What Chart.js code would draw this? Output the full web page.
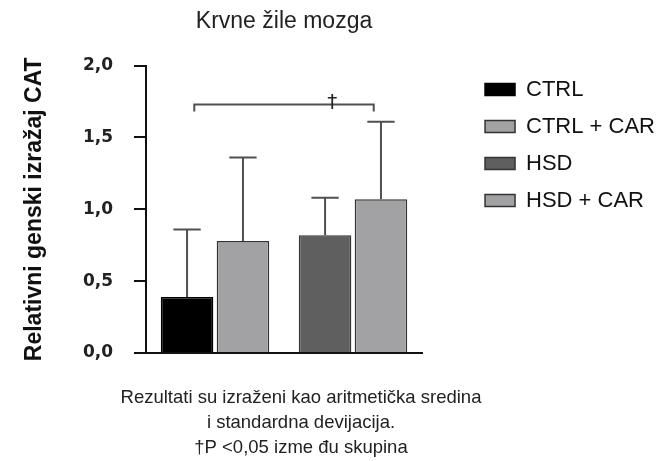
<!DOCTYPE html>
<html>
<head>
<meta charset="utf-8">
<script src="https://cdn.jsdelivr.net/npm/chart.js@4.4.1/dist/chart.umd.min.js"></script>
<style>
  body { margin: 0; background: #fff; }
  canvas { display: block; }
</style>
</head>
<body>
<canvas id="grafikon" width="669" height="461"></canvas>
<script>
const kategorije = ["CTRL", "HSD"];
const skupine = ["CTRL", "CTRL + CAR", "HSD", "HSD + CAR"];
const skupinaKategorija = [0, 0, 1, 1];
const srednjaVrijednost = [0.39, 0.78, 0.82, 1.07];
const standardnaDevijacija = [0.47, 0.58, 0.26, 0.54];
const bojeStupaca = ["#000000", "#a2a2a5", "#5f5f5f", "#a2a2a5"];
const yOznake = [0, 0.5, 1.0, 1.5, 2.0];

// znacajnost: od kategorije do kategorije, visina zagrade
const zagradaOd = -0.15;
const zagradaDo = 1.15;
const zagradaVisina = 1.73;
const zagradaKraj = 1.68;
const oznakaZnacajnosti = "†";

const naslov = "Krvne žile mozga";
const naslovY = "Relativni genski izražaj CAT";
const opis = [
  "Rezultati su izraženi kao aritmetička sredina",
  "i standardna devijacija.",
  "†P <0,05 izme đu skupina"
];

const datasets = skupine.map((ime, i) => ({
  label: ime,
  data: kategorije.map((k, j) => (j === skupinaKategorija[i] ? srednjaVrijednost[i] : null)),
  backgroundColor: bojeStupaca[i],
  borderColor: i === 0 ? "#000" : "#333",
  borderWidth: 1.5,
  skipNull: true,
  categoryPercentage: 0.81,
  barPercentage: 0.94,
}));

const greske = {
  id: "greske",
  afterDatasetsDraw(chart) {
    const ctx = chart.ctx;
    const y = chart.scales.y;
    const x = chart.scales.x;
    ctx.save();
    ctx.strokeStyle = "#505050";
    ctx.lineWidth = 2;
    skupine.forEach((ime, i) => {
      const bar = chart.getDatasetMeta(i).data[skupinaKategorija[i]];
      const vrh = y.getPixelForValue(srednjaVrijednost[i] + standardnaDevijacija[i]);
      const pola = bar.width * 0.26;
      ctx.beginPath();
      ctx.moveTo(bar.x, bar.y);
      ctx.lineTo(bar.x, vrh);
      ctx.moveTo(bar.x - pola, vrh);
      ctx.lineTo(bar.x + pola, vrh);
      ctx.stroke();
    });
    // zagrada
    const x1 = x.getPixelForValue(zagradaOd);
    const x2 = x.getPixelForValue(zagradaDo);
    const yz = y.getPixelForValue(zagradaVisina);
    const yk = y.getPixelForValue(zagradaKraj);
    ctx.beginPath();
    ctx.moveTo(x1, yk);
    ctx.lineTo(x1, yz);
    ctx.lineTo(x2, yz);
    ctx.lineTo(x2, yk);
    ctx.stroke();
    ctx.fillStyle = "#222";
    ctx.font = "20px 'DejaVu Sans'";
    ctx.textAlign = "center";
    ctx.textBaseline = "bottom";
    ctx.fillText(oznakaZnacajnosti, x.getPixelForValue(0.85), yz + 8);
    ctx.restore();
  },
  afterDraw(chart) {
    const ctx = chart.ctx;
    ctx.save();
    ctx.fillStyle = "#222";
    ctx.font = "18.5px 'Liberation Sans'";
    ctx.textAlign = "center";
    ctx.textBaseline = "middle";
    opis.forEach((red, i) => {
      ctx.fillText(red, 301, 398 + i * 25);
    });
    ctx.restore();
  }
};

new Chart(document.getElementById("grafikon").getContext("2d"), {
  type: "bar",
  data: { labels: kategorije, datasets: datasets },
  options: {
    responsive: false,
    animation: false,
    layout: { padding: { left: 12, right: 4, top: 0, bottom: 100 } },
    plugins: {
      title: {
        display: true,
        text: naslov,
        fullSize: false,
        color: "#222",
        font: { family: "'Liberation Sans'", size: 23, weight: "normal" },
        padding: { top: 8, bottom: 30 },
      },
      legend: {
        position: "right",
        align: "start",
        maxWidth: 260,
        title: { display: true, text: "", font: { size: 10 }, padding: { top: 51.5, bottom: 0 } },
        labels: {
          color: "#111",
          font: { family: "'Liberation Sans'", size: 22 },
          boxWidth: 30,
          boxHeight: 12,
          padding: 15,
        },
      },
      tooltip: { enabled: false },
    },
    scales: {
      x: {
        grid: { display: false },
        ticks: { display: false },
        border: { display: true, color: "#111", width: 2 },
      },
      y: {
        min: 0,
        max: 2,
        afterBuildTicks: (s) => { s.ticks = yOznake.map((v) => ({ value: v })); },
        afterFit: (s) => { s.width = 134; },
        ticks: {
          color: "#222",
          padding: 21,
          font: { family: "'DejaVu Sans'", size: 17, weight: "bold" },
          callback: (v) => v.toFixed(1).replace(".", ","),
        },
        grid: { drawOnChartArea: false, drawTicks: true, tickLength: 12, color: "#111", lineWidth: 2 },
        border: { color: "#111", width: 2 },
        title: {
          display: true,
          text: naslovY,
          color: "#111",
          font: { family: "'Liberation Sans'", size: 23, weight: "bold" },
          padding: { top: 9, bottom: 36 },
        },
      },
      razmak: {
        type: "linear",
        position: "right",
        display: true,
        grid: { display: false },
        ticks: { display: false },
        border: { display: false },
        afterFit: (s) => { s.width = 48; },
      },
    },
  },
  plugins: [greske],
});
</script>
</body>
</html>
